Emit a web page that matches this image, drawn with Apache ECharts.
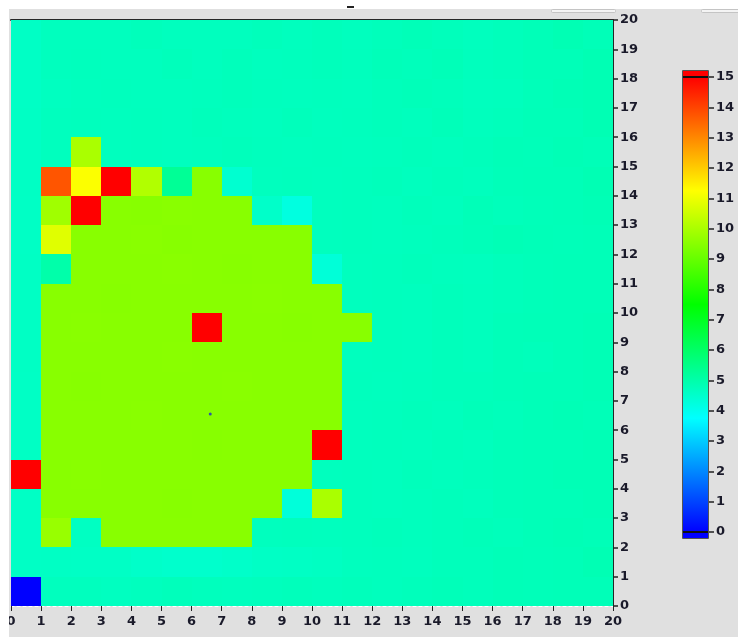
<!DOCTYPE html>
<html>
<head>
<meta charset="utf-8">
<script src="https://cdn.jsdelivr.net/npm/echarts@6/dist/echarts.min.js"></script>
<style>
  html, body { margin: 0; padding: 0; background: #e0e0e0; }
  #chart { width: 738px; height: 637px; }
</style>
</head>
<body>
<div id="chart"></div>
<script>
// Grid size (cells per side) and axis tick range
const gridSize = 20;
const axisMax = 20;
const colorMin = 0;
const colorMax = 15;

// Colour ramp: blue -> cyan -> green -> yellow -> red, evenly spaced over 0..15
const rampColors = ['#0000ff', '#00ffff', '#00ff00', '#ffff00', '#ff0000'];

// Cell values, one row per y band, listed from the top row (y = 19) down to y = 0
const cellRows = [
  [4.60, 4.70, 4.70, 4.70, 4.75, 4.70, 4.70, 4.70, 4.75, 4.70, 4.75, 4.70, 4.75, 4.80, 4.75, 4.70, 4.75, 4.80, 4.85, 4.80],
  [4.60, 4.70, 4.72, 4.70, 4.70, 4.75, 4.70, 4.75, 4.70, 4.72, 4.75, 4.72, 4.78, 4.75, 4.80, 4.72, 4.75, 4.80, 4.80, 4.85],
  [4.60, 4.68, 4.70, 4.72, 4.70, 4.70, 4.72, 4.75, 4.72, 4.70, 4.72, 4.70, 4.75, 4.78, 4.75, 4.70, 4.72, 4.78, 4.82, 4.85],
  [4.62, 4.70, 4.72, 4.70, 4.72, 4.70, 4.75, 4.72, 4.70, 4.75, 4.70, 4.72, 4.75, 4.72, 4.78, 4.72, 4.75, 4.80, 4.80, 4.85],
  [4.62, 4.70, 10.0, 4.70, 4.72, 4.70, 4.72, 4.75, 4.72, 4.70, 4.72, 4.70, 4.72, 4.75, 4.72, 4.75, 4.80, 4.78, 4.82, 4.80],
  [4.62, 13.75, 11.2, 15.0, 10.1, 5.30, 9.50, 4.44, 4.70, 4.72, 4.70, 4.72, 4.75, 4.70, 4.75, 4.72, 4.78, 4.80, 4.80, 4.85],
  [4.60, 9.85, 15.0, 9.50, 9.48, 9.52, 9.50, 9.50, 4.55, 4.20, 4.70, 4.72, 4.70, 4.75, 4.72, 4.80, 4.75, 4.78, 4.80, 4.82],
  [4.60, 10.8, 9.50, 9.50, 9.52, 9.48, 9.50, 9.50, 9.50, 9.50, 4.70, 4.72, 4.70, 4.72, 4.75, 4.78, 4.82, 4.80, 4.78, 4.80],
  [4.62, 5.00, 9.50, 9.50, 9.50, 9.52, 9.50, 9.48, 9.50, 9.50, 4.32, 4.70, 4.72, 4.75, 4.72, 4.70, 4.75, 4.78, 4.80, 4.80],
  [4.62, 9.50, 9.50, 9.48, 9.50, 9.50, 9.50, 9.50, 9.52, 9.50, 9.50, 4.70, 4.72, 4.70, 4.75, 4.72, 4.75, 4.78, 4.80, 4.80],
  [4.62, 9.50, 9.52, 9.50, 9.50, 9.50, 15.0, 9.50, 9.50, 9.48, 9.50, 9.50, 4.72, 4.70, 4.75, 4.72, 4.78, 4.80, 4.80, 4.82],
  [4.62, 9.50, 9.50, 9.50, 9.50, 9.52, 9.50, 9.50, 9.50, 9.50, 9.50, 4.70, 4.72, 4.70, 4.75, 4.72, 4.78, 4.75, 4.80, 4.82],
  [4.60, 9.50, 9.48, 9.50, 9.50, 9.50, 9.50, 9.52, 9.50, 9.50, 9.50, 4.72, 4.70, 4.72, 4.75, 4.75, 4.78, 4.80, 4.80, 4.82],
  [4.60, 9.50, 9.50, 9.50, 9.52, 9.50, 9.50, 9.50, 9.50, 9.50, 9.50, 4.70, 4.72, 4.75, 4.72, 4.78, 4.75, 4.80, 4.82, 4.80],
  [4.62, 9.50, 9.50, 9.50, 9.50, 9.50, 9.48, 9.50, 9.50, 9.50, 15.0, 4.70, 4.72, 4.70, 4.75, 4.72, 4.78, 4.80, 4.80, 4.82],
  [15.0, 9.50, 9.52, 9.50, 9.50, 9.50, 9.50, 9.50, 9.50, 9.50, 4.70, 4.72, 4.70, 4.75, 4.72, 4.75, 4.78, 4.80, 4.82, 4.82],
  [4.60, 9.50, 9.50, 9.50, 9.50, 9.48, 9.50, 9.50, 9.50, 4.30, 10.0, 4.72, 4.70, 4.72, 4.75, 4.72, 4.78, 4.80, 4.80, 4.82],
  [4.60, 9.74, 4.65, 9.50, 9.50, 9.50, 9.50, 9.50, 4.70, 4.72, 4.70, 4.72, 4.75, 4.72, 4.75, 4.78, 4.75, 4.80, 4.82, 4.80],
  [4.60, 4.62, 4.60, 4.60, 4.55, 4.50, 4.50, 4.55, 4.60, 4.62, 4.65, 4.70, 4.72, 4.70, 4.75, 4.75, 4.80, 4.78, 4.80, 4.85],
  [0.00, 4.70, 4.70, 4.68, 4.70, 4.75, 4.72, 4.70, 4.72, 4.75, 4.72, 4.75, 4.72, 4.75, 4.78, 4.75, 4.80, 4.78, 4.80, 4.80]
];

// A small marker point inside the field
const markerPoints = [[6.62, 6.55]];

// [x, y, value] triples for the cell series
const cellData = [];
cellRows.forEach(function (row, r) {
  const y = gridSize - 1 - r;
  row.forEach(function (v, x) { cellData.push([x, y, v]); });
});

const labelFont = {
  fontFamily: 'DejaVu Sans',
  fontWeight: 'bold',
  fontSize: 13,
  color: '#1a1a2a'
};

const tickStyle = { show: true, length: 5, lineStyle: { color: '#222222', width: 1.5 } };

const chart = echarts.init(document.getElementById('chart'), null, { renderer: 'canvas' });

chart.setOption({
  backgroundColor: '#e0e0e0',
  animation: false,
  grid: [
    { left: 11, right: 125, top: 20, bottom: 31 },
    { left: 683, top: 77, width: 25, height: 455 }
  ],
  xAxis: [
    {
      gridIndex: 0, type: 'value', min: 0, max: axisMax, interval: 1, position: 'bottom',
      axisLine: { show: true, onZero: false, lineStyle: { color: '#ffffff', type: [3, 3], width: 1 } },
      axisTick: { show: true, length: 5, lineStyle: { color: '#222222', width: 1 } },
      axisLabel: Object.assign({ margin: 9 }, labelFont),
      splitLine: { show: false }
    },
    {
      gridIndex: 0, type: 'value', min: 0, max: axisMax, position: 'top',
      axisLine: { show: true, onZero: false, lineStyle: { color: '#262626', width: 2 } },
      axisTick: { show: false }, axisLabel: { show: false }, splitLine: { show: false }
    },
    {
      gridIndex: 1, type: 'value', min: 0, max: 1, show: false
    }
  ],
  yAxis: [
    {
      gridIndex: 0, type: 'value', min: 0, max: axisMax, interval: 1, position: 'right',
      axisLine: { show: true, onZero: false, lineStyle: { color: '#262626', width: 1 } },
      axisTick: tickStyle,
      axisLabel: Object.assign({ margin: 7 }, labelFont),
      splitLine: { show: false }
    },
    {
      gridIndex: 0, type: 'value', min: 0, max: axisMax, position: 'left',
      axisLine: { show: true, onZero: false, lineStyle: { color: '#ffffff', type: [3, 3], width: 1 } },
      axisTick: { show: false }, axisLabel: { show: false }, splitLine: { show: false }
    },
    {
      gridIndex: 1, type: 'value', min: colorMin, max: colorMax, interval: 1, position: 'right',
      offset: 1,
      axisLine: { show: false, onZero: false },
      axisTick: tickStyle,
      axisLabel: Object.assign({ margin: 7 }, labelFont),
      splitLine: { show: false }
    }
  ],
  visualMap: {
    type: 'continuous',
    show: false,
    min: colorMin,
    max: colorMax,
    dimension: 2,
    seriesIndex: 0,
    inRange: { color: rampColors }
  },
  series: [
    {
      // field cells, edges snapped to whole pixels so neighbours meet without seams
      type: 'custom',
      xAxisIndex: 0,
      yAxisIndex: 0,
      encode: { x: 0, y: 1 },
      data: cellData,
      renderItem: function (params, api) {
        const x = api.value(0), y = api.value(1);
        const p0 = api.coord([x, y + 1]);
        const p1 = api.coord([x + 1, y]);
        const x0 = Math.round(p0[0]), y0 = Math.round(p0[1]);
        const x1 = Math.round(p1[0]), y1 = Math.round(p1[1]);
        return {
          type: 'rect',
          shape: { x: x0, y: y0, width: x1 - x0, height: y1 - y0 },
          style: { fill: api.visual('color'), stroke: null }
        };
      }
    },
    {
      type: 'scatter',
      xAxisIndex: 0,
      yAxisIndex: 0,
      data: markerPoints,
      symbolSize: 3,
      itemStyle: { color: '#1a2ad0' },
      z: 5
    },
    {
      // colour bar
      type: 'custom',
      xAxisIndex: 2,
      yAxisIndex: 2,
      data: [[0, colorMin]],
      renderItem: function (params, api) {
        const top = api.coord([0, colorMax]);
        const bot = api.coord([1, colorMin]);
        const left = top[0], right = bot[0];
        const w = right - left;
        const ext = 6;
        const stops = rampColors.map(function (c, i) {
          return { offset: i / (rampColors.length - 1), color: c };
        });
        return {
          type: 'group',
          children: [
            { type: 'rect', shape: { x: left, y: top[1] - ext, width: w, height: ext }, style: { fill: rampColors[rampColors.length - 1] } },
            { type: 'rect', shape: { x: left, y: bot[1], width: w, height: ext }, style: { fill: rampColors[0] } },
            {
              type: 'rect',
              shape: { x: left, y: top[1], width: w, height: bot[1] - top[1] },
              style: { fill: new echarts.graphic.LinearGradient(0, 1, 0, 0, stops) }
            },
            { type: 'line', shape: { x1: left, y1: top[1], x2: right, y2: top[1] }, style: { stroke: '#111111', lineWidth: 2 } },
            { type: 'line', shape: { x1: left, y1: bot[1], x2: right, y2: bot[1] }, style: { stroke: '#111111', lineWidth: 2 } },
            {
              type: 'rect',
              shape: { x: left - 0.5, y: top[1] - ext - 0.5, width: w + 1, height: bot[1] - top[1] + 2 * ext + 1 },
              style: { fill: null, stroke: '#555555', lineWidth: 1 }
            }
          ]
        };
      }
    }
  ],
  graphic: [
    // window frame strips along the top and left edges
    { type: 'rect', left: 0, top: 0, shape: { width: 738, height: 9 }, style: { fill: '#ffffff' }, z: 100 },
    { type: 'rect', left: 0, top: 0, shape: { width: 9, height: 637 }, style: { fill: '#ffffff' }, z: 100 },
    { type: 'rect', left: 551, top: 9, shape: { width: 64, height: 3, r: 1 }, style: { fill: '#f4f4f4', stroke: '#c4c4c4', lineWidth: 1 }, z: 100 },
    { type: 'rect', left: 701, top: 9, shape: { width: 40, height: 3, r: 1 }, style: { fill: '#f4f4f4', stroke: '#c4c4c4', lineWidth: 1 }, z: 100 },
    { type: 'rect', left: 347, top: 6, shape: { width: 7, height: 2 }, style: { fill: '#222222' }, z: 100 }
  ]
});
</script>
</body>
</html>
